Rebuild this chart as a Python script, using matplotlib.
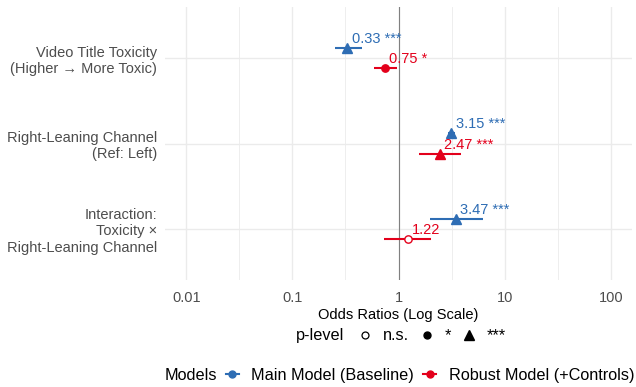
import matplotlib
matplotlib.use("Agg")
from matplotlib import pyplot as plt
from matplotlib.lines import Line2D
import matplotlib.ticker as ticker
import numpy as np

plt.rcParams['font.family'] = ['Liberation Sans', 'DejaVu Sans']

terms = ["Video Title Toxicity\n(Higher \u2192 More Toxic)",
         "Right-Leaning Channel\n(Ref: Left)",
         "Interaction:\nToxicity \u00d7\nRight-Leaning Channel"]

main_or = [0.33, 3.15, 3.47]
main_lo = [0.25, 2.95, 1.96]
main_hi = [0.45, 3.38, 6.2]
main_sig = ["***", "***", "***"]

rob_or = [0.75, 2.47, 1.22]
rob_lo = [0.59, 1.57, 0.73]
rob_hi = [0.97, 3.9, 2.03]
rob_sig = ["*", "***", "n.s."]

blue = "#2E6DB4"
red = "#E3001B"
markers = {"n.s.": "o", "*": "o", "***": "^"}

fig = plt.figure(figsize=(6.36, 3.87), dpi=100)
ax = fig.add_axes([165/636, 1-280/387, 467/636, 273/387])

ypos = np.arange(1, len(terms)+1)

def draw(ors, lo, hi, sig, col, dy):
    for i in range(len(ors)):
        y = ypos[i] + dy
        ax.plot([lo[i], hi[i]], [y, y], color=col, lw=1.5, solid_capstyle='butt', zorder=3)
        m = markers[sig[i]]
        face = 'white' if sig[i] == "n.s." else col
        ms = 6.5 if m == "^" else 5.3
        ax.plot(ors[i], y, marker=m, ms=ms, mfc=face, mec=col, mew=1.0, zorder=4)
        lab = f"{ors[i]:.2f}" if sig[i] == "n.s." else f"{ors[i]:.2f} {sig[i]}"
        ax.annotate(lab, (ors[i], y), xytext=(3, 6.5), textcoords='offset points',
                    ha='left', va='center', color=col, fontsize=10.5, zorder=5)

ax.axvline(1, color='#808080', lw=0.8, zorder=2)
draw(main_or, main_lo, main_hi, main_sig, blue, -0.12)
draw(rob_or, rob_lo, rob_hi, rob_sig, red, 0.12)

ax.set_xscale('log')
ax.set_xlim(10**-2.2, 10**2.2)
ax.set_ylim(3.6, 0.4)
ax.set_xticks([0.01, 0.1, 1, 10, 100])
ax.set_xticklabels(["0.01", "0.1", "1", "10", "100"])
ax.xaxis.set_minor_locator(ticker.FixedLocator([10**k for k in [-2.5, -1.5, -0.5, 0.5, 1.5]]))
ax.xaxis.set_minor_formatter(ticker.NullFormatter())
ax.set_yticks(ypos)
ax.set_yticklabels(terms, fontsize=10.5, color='#4D4D4D', ha='right')
ax.tick_params(axis='x', labelsize=10.5, labelcolor='#4D4D4D', length=0, pad=8)
ax.tick_params(axis='y', length=0, pad=5.8)
ax.tick_params(which='minor', length=0)
ax.grid(which='major', color='#EBEBEB', lw=1.0)
ax.grid(which='minor', axis='x', color='#EBEBEB', lw=0.6)
ax.set_axisbelow(True)
for s in ax.spines.values():
    s.set_visible(False)
ax.set_xlabel("Odds Ratios (Log Scale)", fontsize=10.5, labelpad=2)

# legends
p_handles = [Line2D([], [], ls='none', marker='o', ms=5, mfc='white', mec='black', mew=0.9),
             Line2D([], [], ls='none', marker='o', ms=5, mfc='black', mec='black'),
             Line2D([], [], ls='none', marker='^', ms=6.5, mfc='black', mec='black')]
leg1 = fig.legend(p_handles, ["n.s.", "*", "***"], ncol=3, frameon=False,
                  loc='center', bbox_to_anchor=(0.678, 0.132), fontsize=11.7,
                  handlelength=1.0, handletextpad=0.6, columnspacing=0.6)
fig.text(0.542, 0.132, "p-level", ha='right', va='center', fontsize=11.7)

m_handles = [Line2D([], [], color=blue, lw=1.5, marker='o', ms=5),
             Line2D([], [], color=red, lw=1.5, marker='o', ms=5)]
leg2 = fig.legend(m_handles, ["Main Model (Baseline)", "Robust Model (+Controls)"], ncol=2,
                  frameon=False, loc='center', bbox_to_anchor=(0.676, 0.031), fontsize=11.7,
                  handlelength=0.8, handletextpad=0.75, columnspacing=0.6)
fig.text(0.341, 0.031, "Models", ha='right', va='center', fontsize=11.7)

fig.savefig("out.png", dpi=100)
